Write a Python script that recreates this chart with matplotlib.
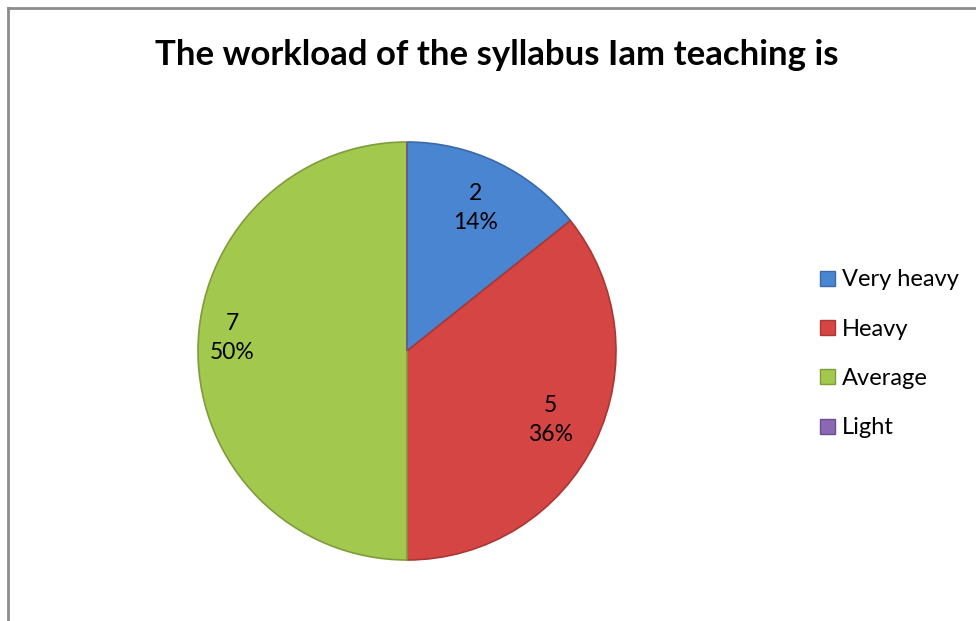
import matplotlib
matplotlib.use("Agg")
import matplotlib.pyplot as plt
import matplotlib.patches as mpatches

categories = ["Very heavy", "Heavy", "Average", "Light"]
counts = [2, 5, 7, 0]
colors = ["#4a85d2", "#d54543", "#a3c84e", "#8a68b4"]
edges = ["#3a6aa8", "#a83836", "#7f9c3c", "#6a4f8c"]
title = "The workload of the syllabus Iam teaching is"

W, H = 976, 621
plt.rcParams["font.family"] = ["Lato", "DejaVu Sans"]

fig = plt.figure(figsize=(W / 100, H / 100), dpi=100, facecolor="white")
ax = fig.add_axes([0, 0, 1, 1])

# chart frame (only top and left visible in the crop)
fig.add_artist(plt.Line2D([7.5 / W, 1], [1 - 8 / H, 1 - 8 / H],
                          transform=fig.transFigure, color="#8c8c8c", lw=2))
fig.add_artist(plt.Line2D([7.5 / W, 7.5 / W], [0, 1 - 8 / H],
                          transform=fig.transFigure, color="#8c8c8c", lw=2))

total = sum(counts)


def fmt(pct):
    n = int(round(pct * total / 100))
    return "" if n == 0 else f"{n}\n{pct:.0f}%"


wedges, texts, autotexts = ax.pie(
    counts, colors=colors, startangle=90, counterclock=False,
    center=(407, H - 351), radius=209, autopct=fmt, pctdistance=0.76,
    wedgeprops=dict(linewidth=1.2),
    textprops=dict(fontsize=16.5, color="black", linespacing=1.5),
    frame=True)
for w, e in zip(wedges, edges):
    w.set_edgecolor(e)
ax.set_xlim(0, W)
ax.set_ylim(0, H)
ax.set_aspect("equal")
ax.axis("off")

# nudge green label toward the left like the reference
autotexts[2].set_position((232, H - 338))

fig.text(497 / W, 1 - 55 / H, title, ha="center", va="center",
         fontsize=25, fontweight="bold", color="black")

handles = [mpatches.Patch(facecolor=c, edgecolor=e, linewidth=1)
           for c, e in zip(colors, edges)]
leg = fig.legend(handles, categories, loc="upper left",
                 bbox_to_anchor=(811 / W, 1 - 260 / H), frameon=False,
                 fontsize=17, handlelength=0.6, handleheight=0.6,
                 handletextpad=0.3, labelspacing=1.2, borderaxespad=0)

fig.savefig("out.png", dpi=100, facecolor="white")
